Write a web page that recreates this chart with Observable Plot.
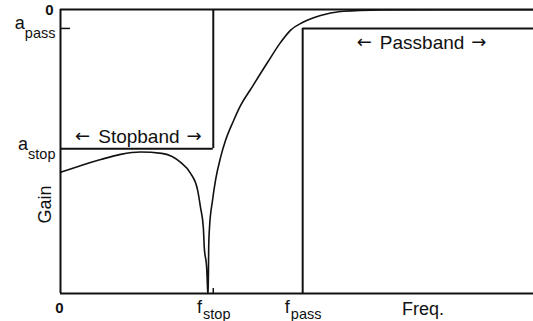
<!DOCTYPE html>
<html>
<head>
<meta charset="utf-8">
<script src="https://cdn.jsdelivr.net/npm/d3@7"></script>
<script src="https://cdn.jsdelivr.net/npm/@observablehq/plot@0.6"></script>
<style>
  html, body { margin: 0; padding: 0; background: #fff; }
  svg { display: block; }
</style>
</head>
<body>
<div id="chart"></div>
<script>
// Low-pass filter specification (frequency in arbitrary units, gain in dB)
const fStop = 32.3;
const fPass = 51.2;
const fMax = 100;
const aPass = -4.0;
const aStop = -29.4;
const gainMin = -60;

// Frequency response of the filter
const respFreq = [0, 4.2, 8.5, 12.7, 16.9, 21.4, 25.4, 27.5, 29.0, 29.6, 30.2, 30.4, 30.9, 31.08, 31.14,
  31.2, 31.29, 31.33, 31.5, 32.13, 32.77, 33.83, 34.88, 36.58, 38.05, 40.17, 43.76, 46.5, 48.6, 51.16,
  54.97, 59.2, 63.4, 67.65, 80, 100];
const respGain = [-34.4, -33.0, -31.7, -30.6, -30.1, -30.4, -32.3, -34.6, -38.2, -41.8, -46.1, -50.3, -54.5, -58.7, -60,
  -59.4, -54.5, -50.3, -46.1, -40.4, -36.1, -31.3, -27.7, -23.5, -20.3, -16.9, -11.2, -7.0, -4.4, -2.75,
  -1.27, -0.42, -0.21, -0.1, -0.05, -0.05];

// Axis tick labels (main symbol + subscript)
const xTickValues = [0, fStop, fPass];
const xTickMain = ["0", "f", "f"];
const xTickSub = ["", "stop", "pass"];
const yTickValues = [0, aPass, aStop];
const yTickMain = ["0", "a", "a"];
const yTickSub = ["", "pass", "stop"];

// Band annotations
const bandNames = ["Stopband", "Passband"];
const arrows = ["\u2190", "\u2192"];
const axisTitles = ["Freq.", "Gain"];

const FONT = "'Liberation Sans', Arial, Helvetica, sans-serif";
const ARROW_FONT = "'DejaVu Sans', sans-serif";
const W = 533, H = 321;
const mL = 60, mR = 0, mT = 9, mB = 28;
const MAIN_SIZE = 18, SUB_SIZE = 14.5, ZERO_SIZE = 15, BAND_SIZE = 19;

const ctx = document.createElement("canvas").getContext("2d");
function textWidth(s, size, family = FONT) {
  ctx.font = `${size}px ${family}`;
  return ctx.measureText(s).width;
}

const response = respFreq.map((f, i) => ({f, g: respGain[i]}));
const xLabels = xTickValues.map((v, i) => ({v, main: xTickMain[i], sub: xTickSub[i]}));
const yLabels = yTickValues.map((v, i) => ({v, main: yTickMain[i], sub: yTickSub[i]}));

const LINE = "#111";
const frameW = W - mL - mR, frameH = H - mT - mB;

const marks = [
  // axes and frame top
  Plot.ruleX([0], {y1: gainMin, y2: 0, stroke: LINE, strokeWidth: 2}),
  Plot.ruleY([gainMin], {x1: 0, x2: fMax, stroke: LINE, strokeWidth: 2}),
  Plot.ruleY([0], {x1: 0, x2: fMax, stroke: LINE, strokeWidth: 2}),
  // stopband limit
  Plot.ruleX([fStop], {y1: aStop, y2: 0, stroke: LINE, strokeWidth: 2}),
  Plot.ruleY([aStop], {x1: 0, x2: fStop, stroke: LINE, strokeWidth: 2}),
  // passband limit
  Plot.ruleX([fPass], {y1: gainMin, y2: aPass, stroke: LINE, strokeWidth: 2}),
  Plot.ruleY([aPass], {x1: fPass, x2: fMax, stroke: LINE, strokeWidth: 2}),
  // small inner ticks
  Plot.tickY([aPass], {stroke: LINE, strokeWidth: 1.5, insetRight: frameW - 10}),
  Plot.tickX([fStop], {stroke: LINE, strokeWidth: 1.5, insetTop: frameH - 5}),
  // response curve
  Plot.line(response, {x: "f", y: "g", stroke: LINE, strokeWidth: 1.6, curve: "monotone-x"}),
  // axis titles
  Plot.text([axisTitles[0]], {frameAnchor: "bottom", text: d => d, fontSize: 18, lineAnchor: "bottom", dx: 126, dy: 21, fill: LINE}),
  Plot.text([axisTitles[1]], {frameAnchor: "left", text: d => d, fontSize: 18, rotate: -90, lineAnchor: "middle", dx: -15, dy: 72, fill: LINE}),
  // zero labels
  Plot.text(yLabels.filter(d => !d.sub), {x: 0, y: "v", text: "main", textAnchor: "end", lineAnchor: "middle", dx: -7, dy: 1, fontSize: ZERO_SIZE, fontWeight: "bold", fill: LINE}),
  Plot.text(xLabels.filter(d => !d.sub), {x: "v", y: gainMin, text: "main", lineAnchor: "middle", dx: -1, dy: 15, fontSize: ZERO_SIZE, fontWeight: "bold", fill: LINE})
];

// band labels, flanked by arrows
function bandLabel(name, x, y, dx, dy) {
  const half = textWidth(name, BAND_SIZE) / 2;
  const common = {x, y, fontSize: BAND_SIZE, lineAnchor: "middle", fill: LINE};
  return [
    Plot.text([name], {...common, text: d => d, dx, dy}),
    Plot.text([arrows[0]], {...common, text: d => d, textAnchor: "end", fontFamily: ARROW_FONT, fontSize: BAND_SIZE * 0.95, dx: dx - half - 8, dy}),
    Plot.text([arrows[1]], {...common, text: d => d, textAnchor: "start", fontFamily: ARROW_FONT, fontSize: BAND_SIZE * 0.95, dx: dx + half + 7, dy})
  ];
}
marks.push(...bandLabel(bandNames[0], fStop / 2, aStop, 2, -12));
marks.push(...bandLabel(bandNames[1], (fPass + fMax) / 2, aPass, 4, 14));

// subscripted labels on the gain axis
for (const d of yLabels.filter(d => d.sub)) {
  const ws = textWidth(d.sub, SUB_SIZE);
  marks.push(Plot.text([d], {x: 0, y: "v", text: "sub", textAnchor: "end", lineAnchor: "bottom", dx: -5, dy: 10, fontSize: SUB_SIZE, fill: LINE}));
  marks.push(Plot.text([d], {x: 0, y: "v", text: "main", textAnchor: "end", lineAnchor: "bottom", dx: -5 - ws, dy: 1, fontSize: MAIN_SIZE, fill: LINE}));
}
// subscripted labels on the frequency axis
for (const d of xLabels.filter(d => d.sub)) {
  const wm = textWidth(d.main, MAIN_SIZE), ws = textWidth(d.sub, SUB_SIZE);
  const start = -(wm + ws) / 2;
  marks.push(Plot.text([d], {x: "v", y: gainMin, text: "main", textAnchor: "start", lineAnchor: "bottom", dx: start, dy: 19, fontSize: MAIN_SIZE, fill: LINE}));
  marks.push(Plot.text([d], {x: "v", y: gainMin, text: "sub", textAnchor: "start", lineAnchor: "bottom", dx: start + wm + 1, dy: 25, fontSize: SUB_SIZE, fill: LINE}));
}

const chart = Plot.plot({
  width: W,
  height: H,
  marginLeft: mL,
  marginRight: mR,
  marginTop: mT,
  marginBottom: mB,
  x: {domain: [0, fMax], axis: null},
  y: {domain: [gainMin, 0], axis: null},
  style: {fontFamily: FONT, background: "#fff", color: LINE, overflow: "hidden"},
  marks
});
document.getElementById("chart").append(chart);
</script>
</body>
</html>
